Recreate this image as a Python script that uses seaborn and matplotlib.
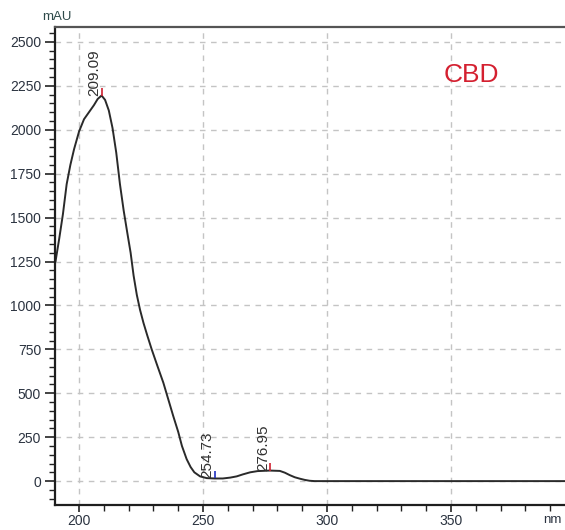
import numpy as np
import pandas as pd
import matplotlib
matplotlib.use("Agg")
import matplotlib.pyplot as plt
from matplotlib.ticker import MultipleLocator
import seaborn as sns

# ---- data ----
wavelength = [190.5, 192.0, 193.5, 195.0, 196.5, 198.0, 200.0, 202.0, 204.0, 206.0,
              207.5, 209.09, 210.5, 212.0, 213.5, 215.0, 216.5, 218.0, 219.5, 220.8,
              222.0, 223.3, 224.6, 226.0, 227.5, 229.3, 231.5, 234.0, 236.0, 238.0,
              240.0, 241.5, 243.4, 245.0, 246.5, 248.8, 251.5, 254.73, 258.0, 261.0,
              263.6, 266.0, 269.0, 272.0, 276.95, 281.0, 283.0, 285.0, 287.0, 289.0,
              291.0, 293.0, 295.0, 396.0]
absorbance = [1250, 1380, 1520, 1690, 1800, 1890, 1990, 2060, 2100, 2140,
              2175, 2195, 2170, 2110, 2010, 1870, 1690, 1540, 1410, 1300,
              1170, 1060, 975, 900, 830, 750, 660, 560, 465, 370,
              280, 200, 125, 80, 50, 27, 17, 15, 15, 20,
              27, 38, 50, 57, 60, 58, 48, 34, 22, 14,
              7, 2, 0, 0]

peak_x = [209.09, 254.73, 276.95]
peak_y = [2195, 15, 60]
peak_labels = ["209.09", "254.73", "276.95"]
peak_colors = ["#d02030", "#2030c0", "#d02030"]

x_ticks = [200, 250, 300, 350]
y_ticks = [0, 250, 500, 750, 1000, 1250, 1500, 1750, 2000, 2250, 2500]

df = pd.DataFrame({"nm": wavelength, "mAU": absorbance})

sns.set_theme(style="ticks")
plt.rcParams["font.family"] = ["Liberation Sans", "DejaVu Sans"]

fig = plt.figure(figsize=(5.65, 5.30), dpi=100)
ax = fig.add_axes([55 / 565, 25 / 530, 510 / 565, 478 / 530])

sns.lineplot(data=df, x="nm", y="mAU", ax=ax, color="#2a2a2a", linewidth=1.4, sort=False)

ax.set_xlim(190.3, 396.0)
ax.set_ylim(-136, 2585)
ax.set_xticks(x_ticks)
ax.set_yticks(y_ticks)
ax.xaxis.set_minor_locator(MultipleLocator(10))
ax.yaxis.set_minor_locator(MultipleLocator(50))
ax.tick_params(axis="y", which="major", direction="out", length=7, width=1.2,
               color="#222222", labelsize=10, labelcolor="#2b3340", pad=3)
ax.tick_params(axis="x", which="major", direction="out", length=5, width=1.2,
               color="#222222", labelsize=10, labelcolor="#2b3340", pad=1.5)
ax.tick_params(axis="both", which="minor", direction="out", length=4, width=1.0,
               color="#222222")
ax.set_xlabel("")
ax.set_ylabel("")

ax.grid(True, which="major", color="#c4c4c4", linestyle=(0, (4, 4)), linewidth=1.0)

for side in ["left", "bottom"]:
    ax.spines[side].set_color("#1e1e1e")
    ax.spines[side].set_linewidth(1.6)
ax.spines["top"].set_visible(True)
ax.spines["top"].set_color("#555555")
ax.spines["top"].set_linewidth(1.6)
ax.spines["right"].set_visible(False)

for px, py, lab, c in zip(peak_x, peak_y, peak_labels, peak_colors):
    ax.vlines(px, py, py + 45, color=c, linewidth=1.2, zorder=4)
    ax.text(px, py, lab, rotation=90, ha="right", va="bottom", fontsize=11,
            color="#303030", zorder=5)

ax.text(0.817, 0.90, "CBD", transform=ax.transAxes, ha="center", va="center",
        fontsize=19, color="#d42030")

fig.text(57 / 565, 1 - 17 / 530, "mAU", ha="center", va="center", fontsize=9.5,
         color="#2e4a4a")
fig.text(562 / 565, 1 - 520 / 530, "nm", ha="right", va="center", fontsize=9.5,
         color="#2b3340")

fig.savefig("out.png", dpi=100)
